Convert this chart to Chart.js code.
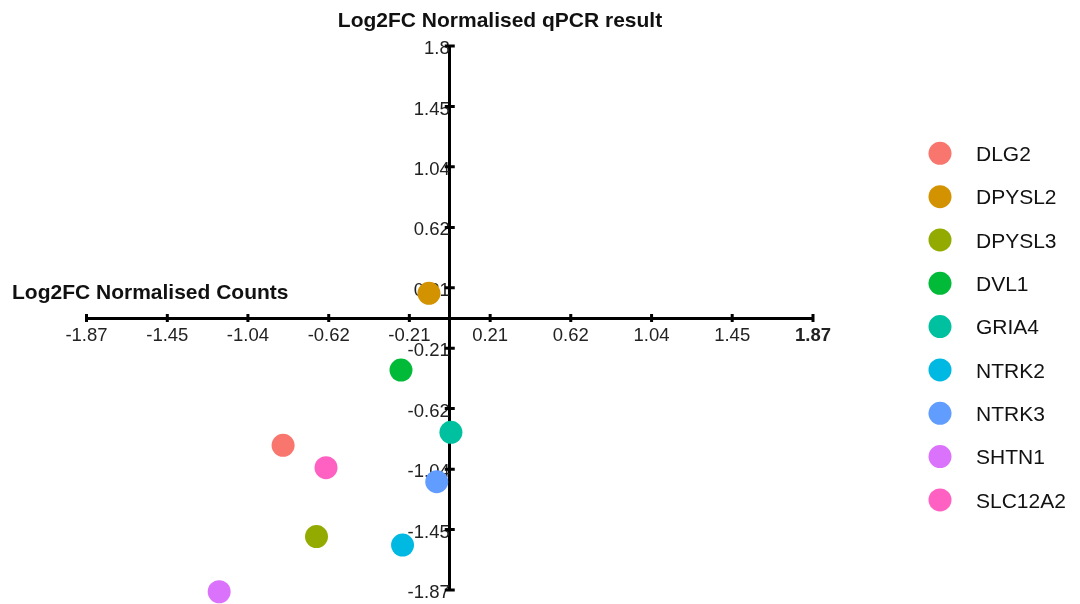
<!DOCTYPE html>
<html>
<head>
<meta charset="utf-8">
<script src="https://cdn.jsdelivr.net/npm/chart.js@4.4.0/dist/chart.umd.min.js"></script>
<style>
    html, body { margin: 0; padding: 0; background: #fff; }
</style>
</head>
<body>
<canvas id="chart" width="1080" height="604"></canvas>
<script>
const genes = ["DLG2", "DPYSL2", "DPYSL3", "DVL1", "GRIA4", "NTRK2", "NTRK3", "SHTN1", "SLC12A2"];
const geneColors = ["#F8766D", "#D39200", "#93AA00", "#00BA38", "#00C19F", "#00B9E3", "#619CFF", "#DB72FB", "#FF61C3"];
// x: Log2FC normalised counts, y: Log2FC normalised qPCR
const countsLog2FC = [-0.858, -0.107, -0.686, -0.251, 0.006, -0.243, -0.067, -1.187, -0.637];
const qpcrLog2FC = [-0.875, 0.17, -1.503, -0.358, -0.786, -1.561, -1.125, -1.882, -1.029];

const tickValues = [-1.87, -1.454, -1.039, -0.623, -0.208, 0.208, 0.623, 1.039, 1.454, 1.87];
const xTickLabels = ["-1.87", "-1.45", "-1.04", "-0.62", "-0.21", "0.21", "0.62", "1.04", "1.45", "1.87"];
const yTickLabels = ["-1.87", "-1.45", "-1.04", "-0.62", "-0.21", "0.21", "0.62", "1.04", "1.45", "1.8"];

const FONT = "'Liberation Sans', Arial, sans-serif";

const axisMarks = {
    id: "axisMarks",
    beforeDatasetsDraw(chart) {
        const { ctx, scales: { x, y } } = chart;
        const x0 = x.getPixelForValue(0);
        const y0 = y.getPixelForValue(0);
        ctx.save();
        ctx.strokeStyle = "#000";
        ctx.lineWidth = 3;
        ctx.beginPath();
        x.ticks.forEach((t) => {
            const px = x.getPixelForValue(t.value);
            ctx.moveTo(px, y0 - 4);
            ctx.lineTo(px, y0 + 4);
        });
        y.ticks.forEach((t) => {
            const py = y.getPixelForValue(t.value);
            ctx.moveTo(x0 - 5, py);
            ctx.lineTo(x0 + 5, py);
        });
        ctx.stroke();
        ctx.restore();
    },
};

const titlesAndLegend = {
    id: "titlesAndLegend",
    afterDraw(chart) {
        const ctx = chart.ctx;
        ctx.save();
        ctx.fillStyle = "#111";
        ctx.font = "bold 21px " + FONT;
        ctx.textBaseline = "alphabetic";
        ctx.textAlign = "center";
        ctx.fillText("Log2FC Normalised qPCR result", 500, 27);
        ctx.textAlign = "left";
        ctx.fillText("Log2FC Normalised Counts", 12, 299);

        ctx.font = "21px " + FONT;
        ctx.textBaseline = "middle";
        chart.data.datasets.forEach((ds, i) => {
            const cy = 153.3 + i * 43.33;
            ctx.fillStyle = ds.backgroundColor;
            ctx.beginPath();
            ctx.arc(940, cy, 11.5, 0, Math.PI * 2);
            ctx.fill();
            ctx.fillStyle = "#111";
            ctx.fillText(ds.label, 976, cy + 2);
        });
        ctx.restore();
    },
};

const ctx = document.getElementById("chart").getContext("2d");
new Chart(ctx, {
    type: "scatter",
    data: {
        datasets: genes.map((gene, i) => ({
            label: gene,
            data: [{ x: countsLog2FC[i], y: qpcrLog2FC[i] }],
            backgroundColor: geneColors[i],
            borderWidth: 0,
            pointRadius: 11.5,
            clip: false,
        })),
    },
    options: {
        responsive: false,
        animation: false,
        layout: {
            padding: { left: 86.5, right: 267, top: 46, bottom: 14 },
        },
        plugins: {
            legend: { display: false },
            tooltip: { enabled: false },
        },
        scales: {
            x: {
                type: "linear",
                min: -1.87,
                max: 1.87,
                position: { y: 0 },
                afterBuildTicks: (scale) => {
                    scale.ticks = tickValues.map((v) => ({ value: v }));
                },
                grid: { display: false, drawTicks: false },
                border: { display: true, color: "#000", width: 3 },
                ticks: {
                    autoSkip: false,
                    maxRotation: 0,
                    padding: 7,
                    color: "#222",
                    font: (c) => ({ family: FONT, size: 18.5, weight: c.index === 9 ? "bold" : "normal" }),
                    callback: (value, index) => xTickLabels[index],
                },
            },
            y: {
                type: "linear",
                min: -1.87,
                max: 1.87,
                position: { x: 0 },
                afterBuildTicks: (scale) => {
                    scale.ticks = tickValues.map((v) => ({ value: v }));
                },
                grid: { display: false, drawTicks: false },
                border: { display: true, color: "#000", width: 3 },
                ticks: {
                    autoSkip: false,
                    padding: 0,
                    labelOffset: 3,
                    color: "#222",
                    font: { family: FONT, size: 18.5 },
                    callback: (value, index) => yTickLabels[index],
                },
            },
        },
    },
    plugins: [axisMarks, titlesAndLegend],
});
</script>
</body>
</html>
